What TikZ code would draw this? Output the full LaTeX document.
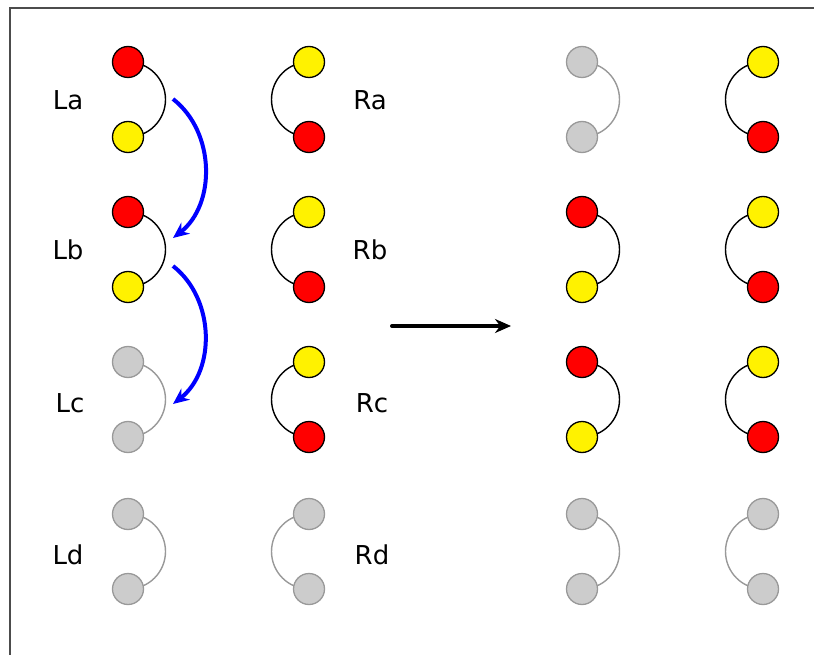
\documentclass[tikz,border=0pt]{standalone}
\usepackage{fontspec}
\setmainfont{DejaVu Sans}
\usetikzlibrary{arrows.meta,backgrounds}
\definecolor{ggray}{HTML}{CCCCCC}
\definecolor{gline}{HTML}{999999}
\definecolor{fblue}{HTML}{0000FF}
\tikzset{
  ball/.style={circle,minimum size=31pt,inner sep=0pt,line width=1.3pt},
  redb/.style={ball,draw=black,fill=red},
  yelb/.style={ball,draw=black,fill=yellow},
  grayb/.style={ball,draw=gline,fill=ggray},
  link/.style={line width=1.4pt,draw=black},
  glink/.style={line width=1.4pt,draw=gline},
  lab/.style={font=\fontsize{26pt}{30pt}\selectfont,inner sep=0pt},
  bluearr/.style={draw=fblue,line width=4pt,-{Stealth[length=16pt,width=14pt]}},
  mainarr/.style={draw=black,line width=4pt,line cap=round,-{Stealth[length=16pt,width=14pt]}},
}
\begin{document}
\begin{tikzpicture}[x=1pt,y=-1pt]
\useasboundingbox (0,0) rectangle (814,655);
\draw[line width=1.5pt,draw=black!70] (10,655) -- (10,8) -- (814,8);
% column 1
\node[redb] (a1t) at (128,62) {};  \node[yelb] (a1b) at (128,137) {};
\node[redb] (b1t) at (128,212) {}; \node[yelb] (b1b) at (128,287) {};
\node[grayb] (c1t) at (128,362) {}; \node[grayb] (c1b) at (128,437) {};
\node[grayb] (d1t) at (128,514) {}; \node[grayb] (d1b) at (128,589) {};
% column 2
\node[yelb] (a2t) at (309,62) {};  \node[redb] (a2b) at (309,137) {};
\node[yelb] (b2t) at (309,212) {}; \node[redb] (b2b) at (309,287) {};
\node[yelb] (c2t) at (309,362) {}; \node[redb] (c2b) at (309,437) {};
\node[grayb] (d2t) at (309,514) {}; \node[grayb] (d2b) at (309,589) {};
% column 3
\node[grayb] (a3t) at (582,62) {};  \node[grayb] (a3b) at (582,137) {};
\node[redb] (b3t) at (582,212) {}; \node[yelb] (b3b) at (582,287) {};
\node[redb] (c3t) at (582,362) {}; \node[yelb] (c3b) at (582,437) {};
\node[grayb] (d3t) at (582,514) {}; \node[grayb] (d3b) at (582,589) {};
% column 4
\node[yelb] (a4t) at (763,62) {};  \node[redb] (a4b) at (763,137) {};
\node[yelb] (b4t) at (763,212) {}; \node[redb] (b4b) at (763,287) {};
\node[yelb] (c4t) at (763,362) {}; \node[redb] (c4b) at (763,437) {};
\node[grayb] (d4t) at (763,514) {}; \node[grayb] (d4b) at (763,589) {};
\begin{scope}[on background layer]
% right-bulging links (columns 1 and 3)
\draw[link]  (a1t.center) arc[start angle=-90,end angle=90,radius=37.5];
\draw[link]  (b1t.center) arc[start angle=-90,end angle=90,radius=37.5];
\draw[glink] (c1t.center) arc[start angle=-90,end angle=90,radius=37.5];
\draw[glink] (d1t.center) arc[start angle=-90,end angle=90,radius=37.5];
\draw[glink] (a3t.center) arc[start angle=-90,end angle=90,radius=37.5];
\draw[link]  (b3t.center) arc[start angle=-90,end angle=90,radius=37.5];
\draw[link]  (c3t.center) arc[start angle=-90,end angle=90,radius=37.5];
\draw[glink] (d3t.center) arc[start angle=-90,end angle=90,radius=37.5];
% left-bulging links (columns 2 and 4)
\draw[link]  (a2t.center) arc[start angle=-90,end angle=-270,radius=37.5];
\draw[link]  (b2t.center) arc[start angle=-90,end angle=-270,radius=37.5];
\draw[link]  (c2t.center) arc[start angle=-90,end angle=-270,radius=37.5];
\draw[glink] (d2t.center) arc[start angle=-90,end angle=-270,radius=37.5];
\draw[link]  (a4t.center) arc[start angle=-90,end angle=-270,radius=37.5];
\draw[link]  (b4t.center) arc[start angle=-90,end angle=-270,radius=37.5];
\draw[link]  (c4t.center) arc[start angle=-90,end angle=-270,radius=37.5];
\draw[glink] (d4t.center) arc[start angle=-90,end angle=-270,radius=37.5];
\end{scope}
% labels
\node[lab] (la) at (68,100) {La};
\node[lab] (lb) at (68,250) {Lb};
\node[lab] (lc) at (70,403) {Lc};
\node[lab] (ld) at (68,555) {Ld};
\node[lab] (ra) at (370,100) {Ra};
\node[lab] (rb) at (370,250) {Rb};
\node[lab] (rc) at (372,403) {Rc};
\node[lab] (rd) at (372,555) {Rd};
% blue arrows
\coordinate (s1) at (173,99);
\coordinate (e1) at (173,238);
\coordinate (s2) at (173,266);
\coordinate (e2) at (173,404);
\draw[bluearr] (s1) to[bend left=52] (e1);
\draw[bluearr] (s2) to[bend left=52] (e2);
% main arrow
\coordinate (m1) at (392,326);
\coordinate (m2) at (511,326);
\draw[mainarr] (m1) -- (m2);
\end{tikzpicture}
\end{document}
